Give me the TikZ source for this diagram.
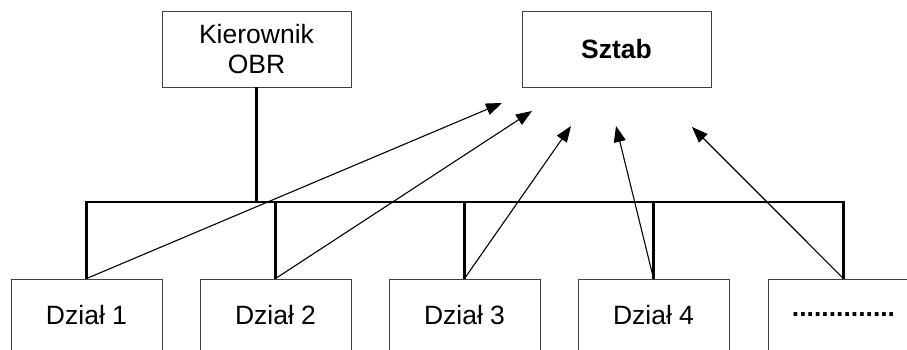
\documentclass[tikz,border=0pt]{standalone}
\usepackage{fontspec}
\setmainfont{Liberation Sans}
\usetikzlibrary{arrows.meta}

\tikzset{
  unit/.style={draw=black!75, line width=0.9pt, minimum width=189pt, minimum height=76pt,
    inner sep=0pt, align=center, font=\fontsize{26.5}{30}\selectfont},
  dept/.style={draw=black!75, line width=0.9pt, minimum width=151pt, minimum height=72pt,
    inner sep=0pt, font=\fontsize{26.5}{30}\selectfont},
  bus/.style={line width=2.6pt, line cap=rect},
  link/.style={line width=1.1pt, -{Triangle[length=16pt,width=12pt]}}
}

\begin{document}
\begin{tikzpicture}[x=1pt, y=-1pt]
  \useasboundingbox (0,0) rectangle (907,350);

  % upper level
  \node[unit] (kier) at (256.5,49) {Kierownik\\OBR};
  \node[unit] (sztab) at (616.5,49.5) {\bfseries Sztab};

  % departments
  \node[dept] (d1) at (86.5,315) {Dział 1};
  \node[dept] (d2) at (275.5,315) {Dział 2};
  \node[dept] (d3) at (464.5,315) {Dział 3};
  \node[dept] (d4) at (653.5,315) {Dział 4};
  \node[dept] (d5) at (843.5,315) {\bfseries ..............};

  % distribution bus
  \coordinate (b0) at (256.5,202);
  \coordinate (bl) at (86.5,202);
  \coordinate (br) at (843.5,202);
  \draw[line width=2.6pt] (kier.south) -- (b0);
  \draw[bus] (bl) -- (br);
  \foreach \d in {d1,d2,d3,d4,d5}
    \draw[line width=2.6pt] (\d.north |- bl) -- (\d.north);

  % reporting lines towards the staff
  \coordinate (s1) at (502,103);
  \coordinate (s2) at (532,111);
  \coordinate (s3) at (571,126);
  \coordinate (s4) at (616,126);
  \coordinate (s5) at (692,127);
  \draw[link] (d1.north) -- (s1);
  \draw[link] (d2.north) -- (s2);
  \draw[link] (d3.north) -- (s3);
  \draw[link] (d4.north) -- (s4);
  \draw[link] (d5.north) -- (s5);
\end{tikzpicture}
\end{document}
